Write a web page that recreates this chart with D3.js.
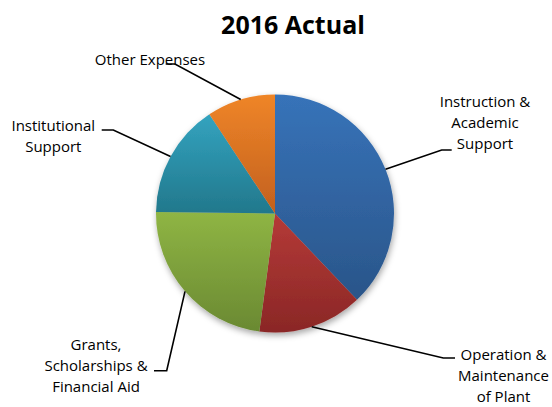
<!DOCTYPE html>
<html>
<head>
<meta charset="utf-8">
<script src="https://cdn.jsdelivr.net/npm/d3@7/dist/d3.min.js"></script>
<style>
  html, body { margin: 0; padding: 0; background: #fff; }
  svg { display: block; }
</style>
</head>
<body>
<svg id="chart" width="552" height="407"></svg>
<script>
// ---- data ----
const title = "2016 Actual";
const categories = [
  "Instruction & Academic Support",
  "Operation & Maintenance of Plant",
  "Grants, Scholarships & Financial Aid",
  "Institutional Support",
  "Other Expenses"
];
const values = [37.9, 14.2, 23.1, 15.5, 9.3];
const labelLines = [
  ["Instruction &", "Academic", "Support"],
  ["Operation &", "Maintenance", "of Plant"],
  ["Grants,", "Scholarships &", "Financial Aid"],
  ["Institutional", "Support"],
  ["Other Expenses"]
];
const colorsTop = ["#3773B9", "#B53A37", "#8FB544", "#33A3BF", "#EF8528"];
const colorsBottom = ["#2A5589", "#8A2726", "#6A8932", "#22788C", "#C2601E"];

// ---- layout ----
const W = 552, H = 407;
const cx = 275, cy = 213.5, R = 119;
const labelLayout = [
  { elbow: [441.7, 150], end: [451.7, 150], x: 485, y: 106.7 },
  { elbow: [443.3, 358], end: [455, 358], x: 503.5, y: 360 },
  { elbow: [166.7, 370.7], end: [154, 370.7], x: 96, y: 350 },
  { elbow: [113.3, 130], end: [101.7, 130], x: 53.3, y: 130.7 },
  { elbow: [175, 64], end: [165.7, 64], x: 150, y: 65 }
];
const lineH = 21;

const svg = d3.select("#chart");
const defs = svg.append("defs");

const filt = defs.append("filter").attr("id", "shadow")
  .attr("x", "-20%").attr("y", "-20%").attr("width", "140%").attr("height", "140%");
filt.append("feDropShadow").attr("dx", 1).attr("dy", 3).attr("stdDeviation", 3)
  .attr("flood-color", "#000").attr("flood-opacity", 0.35);

values.forEach((v, i) => {
  const g = defs.append("linearGradient").attr("id", "grad" + i)
    .attr("x1", 0).attr("y1", 0).attr("x2", 0).attr("y2", 1);
  g.append("stop").attr("offset", "0%").attr("stop-color", colorsTop[i]);
  g.append("stop").attr("offset", "100%").attr("stop-color", colorsBottom[i]);
});

svg.append("text")
  .attr("x", 293).attr("y", 33.5)
  .attr("text-anchor", "middle")
  .attr("font-family", "'Open Sans', sans-serif")
  .attr("font-weight", "bold")
  .attr("font-size", 25)
  .attr("fill", "#000")
  .text(title);

const pie = d3.pie().sort(null).value(d => d)(values);
const arc = d3.arc().innerRadius(0).outerRadius(R);

const pieG = svg.append("g").attr("transform", `translate(${cx},${cy})`)
  .attr("filter", "url(#shadow)");
pieG.selectAll("path").data(pie).join("path")
  .attr("d", arc)
  .attr("fill", (d, i) => `url(#grad${i})`);

// leader lines
const lineG = svg.append("g");
pie.forEach((d, i) => {
  const mid = (d.startAngle + d.endAngle) / 2;
  const sx = cx + R * Math.sin(mid), sy = cy - R * Math.cos(mid);
  const L = labelLayout[i];
  lineG.append("path")
    .attr("d", d3.line()([[sx, sy], L.elbow, L.end]))
    .attr("fill", "none")
    .attr("stroke", "#000")
    .attr("stroke-width", 1.6);
});

// labels
const labG = svg.append("g")
  .attr("font-family", "'Open Sans', sans-serif")
  .attr("font-size", 15)
  .attr("fill", "#000");
labelLines.forEach((lines, i) => {
  const L = labelLayout[i];
  const t = labG.append("text").attr("text-anchor", "middle");
  lines.forEach((s, j) => {
    t.append("tspan").attr("x", L.x).attr("y", L.y + j * lineH).text(s);
  });
});
</script>
</body>
</html>
